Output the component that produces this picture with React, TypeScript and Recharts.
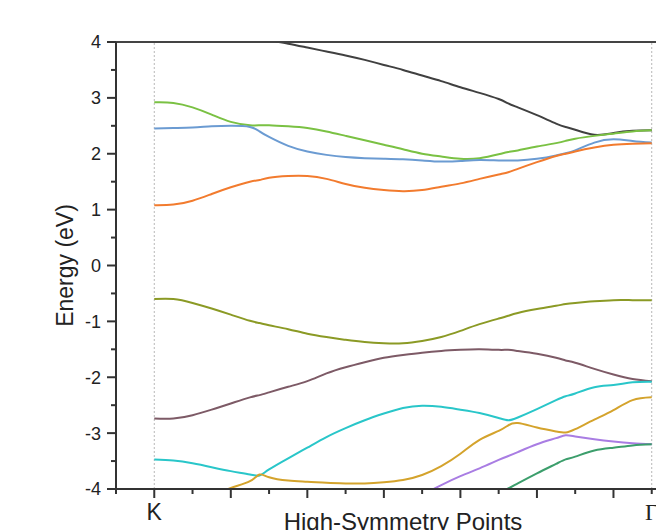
import React from "react";
import { LineChart, Line, XAxis, YAxis, ReferenceLine } from "recharts";

// k-path position, in tick steps from K (0) to Γ (13)
const kpath = [0, 0.5, 1, 1.5, 2, 2.5, 2.75, 3, 3.5, 4, 4.5, 5, 5.5, 6, 6.5, 7, 7.5, 8, 8.5, 9, 9.25, 9.5, 10, 10.5, 10.75, 11, 11.5, 12, 12.5, 13];
const symPoints = [0, 13];
const symLabels = ["K", "Γ"];
const xTicks = [-1, 0, 1, 2, 3, 4, 5, 6, 7, 8, 9, 10, 11, 12, 13, 14];
const yTicks = [-4, -3.5, -3, -2.5, -2, -1.5, -1, -0.5, 0, 0.5, 1, 1.5, 2, 2.5, 3, 3.5, 4];

// band energies (eV)
const gray = [4.45, 4.42, 4.38, 4.3, 4.21, 4.12, 4.07, 4.03, 3.97, 3.9, 3.83, 3.76, 3.68, 3.59, 3.5, 3.4, 3.3, 3.19, 3.09, 2.98, 2.9, 2.83, 2.69, 2.54, 2.48, 2.43, 2.34, 2.37, 2.41, 2.42];
const green = [2.92, 2.91, 2.83, 2.7, 2.57, 2.51, 2.51, 2.51, 2.49, 2.46, 2.4, 2.32, 2.24, 2.16, 2.08, 2.0, 1.95, 1.91, 1.92, 1.99, 2.03, 2.06, 2.13, 2.19, 2.23, 2.27, 2.32, 2.36, 2.4, 2.42];
const blue = [2.45, 2.46, 2.47, 2.49, 2.5, 2.48, 2.4, 2.3, 2.14, 2.04, 1.98, 1.94, 1.92, 1.91, 1.9, 1.88, 1.86, 1.87, 1.89, 1.88, 1.88, 1.88, 1.91, 1.97, 2.01, 2.06, 2.2, 2.26, 2.23, 2.2];
const orange = [1.08, 1.09, 1.16, 1.28, 1.4, 1.5, 1.53, 1.57, 1.6, 1.6, 1.55, 1.46, 1.39, 1.35, 1.33, 1.35, 1.41, 1.47, 1.55, 1.63, 1.67, 1.73, 1.85, 1.96, 2.0, 2.04, 2.11, 2.16, 2.18, 2.19];
const olive = [-0.6, -0.6, -0.67, -0.77, -0.88, -0.99, -1.03, -1.07, -1.14, -1.22, -1.28, -1.33, -1.37, -1.39, -1.39, -1.35, -1.28, -1.17, -1.05, -0.95, -0.9, -0.85, -0.78, -0.72, -0.69, -0.67, -0.64, -0.62, -0.62, -0.62];
const brown = [-2.74, -2.74, -2.68, -2.58, -2.47, -2.36, -2.32, -2.27, -2.17, -2.07, -1.93, -1.82, -1.73, -1.65, -1.6, -1.56, -1.53, -1.51, -1.5, -1.51, -1.51, -1.53, -1.58, -1.65, -1.7, -1.74, -1.85, -1.95, -2.03, -2.07];
const cyan = [-3.47, -3.49, -3.54, -3.61, -3.68, -3.74, -3.76, -3.65, -3.45, -3.26, -3.07, -2.91, -2.77, -2.65, -2.55, -2.51, -2.53, -2.58, -2.64, -2.73, -2.77, -2.72, -2.57, -2.41, -2.34, -2.29, -2.18, -2.14, -2.09, -2.08];
const gold = [-4.5, -4.38, -4.25, -4.12, -3.98, -3.86, -3.74, -3.79, -3.85, -3.87, -3.89, -3.9, -3.9, -3.88, -3.84, -3.75, -3.59, -3.37, -3.12, -2.96, -2.86, -2.82, -2.9, -2.97, -2.99, -2.93, -2.76, -2.59, -2.41, -2.36];
const purple = [null, null, null, null, null, null, null, null, null, null, null, null, null, null, -4.25, -4.1, -3.93, -3.77, -3.63, -3.48, -3.41, -3.34, -3.2, -3.09, -3.04, -3.06, -3.11, -3.15, -3.18, -3.2];
const teal = [null, null, null, null, null, null, null, null, null, null, null, null, null, null, null, null, null, null, -4.35, -4.08, -3.99, -3.9, -3.72, -3.55, -3.47, -3.42, -3.31, -3.26, -3.22, -3.2];

const bands = [
  { key: "gray", values: gray, color: "#404040" },
  { key: "green", values: green, color: "#7ac143" },
  { key: "blue", values: blue, color: "#6b9bd2" },
  { key: "orange", values: orange, color: "#f27b2e" },
  { key: "olive", values: olive, color: "#8b9a25" },
  { key: "brown", values: brown, color: "#7d5a66" },
  { key: "cyan", values: cyan, color: "#29c6c9" },
  { key: "gold", values: gold, color: "#d4a32c" },
  { key: "purple", values: purple, color: "#a97de3" },
  { key: "teal", values: teal, color: "#3c9e6c" },
];

const data = kpath.map((k, i) => {
  const row: Record<string, number | null> = { k };
  bands.forEach((b) => (row[b.key] = b.values[i]));
  return row;
});

const AXIS = "#333";
const INK = "#222";
const SANS = '"Liberation Sans", Arial, sans-serif';
const SERIF = '"Liberation Serif", "Times New Roman", serif';

function XTick({ x, y, payload }: any) {
  const v = payload.value;
  const len = v % 2 === 0 ? 9 : 5;
  const idx = symPoints.indexOf(v);
  return (
    <g>
      <line x1={x} x2={x} y1={y} y2={y + len} stroke={AXIS} strokeWidth={2} />
      {idx >= 0 && (
        <text x={x} y={y + 31} textAnchor="middle" fontSize={23} fontFamily={idx === 1 ? SERIF : SANS} fill={INK}>
          {symLabels[idx]}
        </text>
      )}
    </g>
  );
}

function YTick({ x, y, payload }: any) {
  const v = payload.value;
  const major = Number.isInteger(v);
  return (
    <g>
      <line x1={x - (major ? 9 : 5)} x2={x} y1={y} y2={y} stroke={AXIS} strokeWidth={2} />
      {major && (
        <text x={x - 15} y={y} dy="0.36em" textAnchor="end" fontSize={18} fontFamily={SANS} fill={INK}>
          {v}
        </text>
      )}
    </g>
  );
}

function XTitle({ viewBox }: any) {
  const { x, y, width } = viewBox;
  return (
    <text x={x + width / 2} y={y + 41} textAnchor="middle" fontSize={24} fontFamily={SANS} fill={INK}>
      High-Symmetry Points
    </text>
  );
}

function YTitle({ viewBox }: any) {
  const { y, height } = viewBox;
  const cx = 73;
  const cy = y + height / 2;
  return (
    <text x={cx} y={cy} transform={`rotate(-90 ${cx} ${cy})`} textAnchor="middle" fontSize={23} fontFamily={SANS} fill={INK}>
      Energy (eV)
    </text>
  );
}

export default function App() {
  return (
    <div style={{ position: "fixed", left: 0, top: 0, width: 656, height: 530, overflow: "hidden", background: "#fff" }}>
      <LineChart width={710} height={560} data={data} margin={{ top: 42, right: 20, left: 0, bottom: 0 }}>
        <XAxis
          dataKey="k"
          type="number"
          domain={[-1, 14]}
          ticks={xTicks}
          interval={0}
          height={71}
          tickSize={0}
          tickMargin={0}
          tickLine={false}
          tick={<XTick />}
          axisLine={{ stroke: AXIS, strokeWidth: 2 }}
          label={<XTitle />}
        />
        <YAxis
          type="number"
          domain={[-4, 4]}
          ticks={yTicks}
          interval={0}
          width={116}
          allowDataOverflow
          tickSize={0}
          tickMargin={0}
          tickLine={false}
          tick={<YTick />}
          axisLine={{ stroke: AXIS, strokeWidth: 2 }}
          label={<YTitle />}
        />
        {symPoints.map((p) => (
          <ReferenceLine key={p} x={p} stroke="#b8b8b8" strokeWidth={1} strokeDasharray="2 2" />
        ))}
        <ReferenceLine y={4} stroke="#444" strokeWidth={2} />
        {bands.map((b) => (
          <Line
            key={b.key}
            dataKey={b.key}
            type="natural"
            stroke={b.color}
            strokeWidth={2}
            dot={false}
            isAnimationActive={false}
          />
        ))}
      </LineChart>
    </div>
  );
}
